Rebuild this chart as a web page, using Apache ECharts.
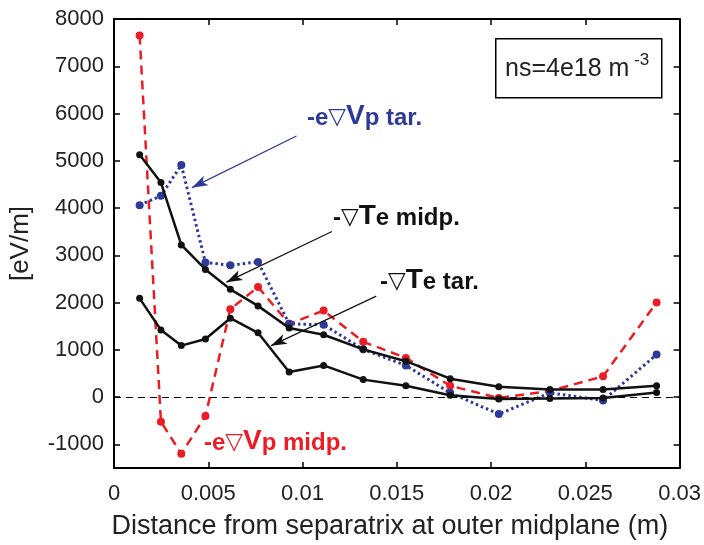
<!DOCTYPE html>
<html>
<head>
<meta charset="utf-8">
<script src="https://cdn.jsdelivr.net/npm/echarts@6/dist/echarts.min.js"></script>
<style>html,body{margin:0;padding:0;background:#fff;}#c{width:704px;height:545px;}</style>
</head>
<body>
<div id="c"></div>
<script>
// Data
var xDist = [0.00136, 0.00249, 0.00357, 0.00485, 0.00617, 0.00764, 0.00929, 0.01112, 0.01322, 0.01548, 0.01783, 0.02041, 0.02312, 0.02594, 0.02878];
var vpMidp = [7650, -520, -1200, -400, 1860, 2330, 1550, 1830, 1170, 830, 240, -20, 130, 440, 2000];
var vpTar  = [4060, 4260, 4910, 2850, 2790, 2860, 1550, 1530, 1010, 670, 90, -360, 90, -70, 900];
var teMidp = [5130, 4540, 3220, 2700, 2280, 1930, 1460, 1320, 1010, 760, 390, 220, 160, 160, 240];
var teTar  = [2090, 1420, 1090, 1230, 1670, 1360, 530, 670, 370, 240, 40, -40, -30, -20, 95];
var yTicks = [-1000, 0, 1000, 2000, 3000, 4000, 5000, 6000, 7000, 8000];
var xTicks = [0, 0.005, 0.01, 0.015, 0.02, 0.025, 0.03];

function pairs(xs, ys) { return xs.map(function (x, i) { return [x, ys[i]]; }); }

var RED = '#ec1c24', BLUE = '#2e3a97', BLACK = '#111111';
var FONT = '"Liberation Sans", Arial, Helvetica, sans-serif';
var TRI = '"DejaVu Sans", sans-serif';

var chart = echarts.init(document.getElementById('c'), null, {renderer: 'canvas'});

var axisCommon = {
  axisLine: {show: true, onZero: false, lineStyle: {color: '#000', width: 2}},
  splitLine: {show: false}
};

function ann(left, top, parts, color) {
  return {
    type: 'text', left: left, top: top, z: 100,
    style: {
      text: parts, fill: color,
      rich: {
        a: {fontFamily: FONT, fontWeight: 'bold', fontSize: 24, fill: color, verticalAlign: 'bottom'},
        t: {fontFamily: TRI, fontWeight: 'normal', fontSize: 23, fill: color, verticalAlign: 'bottom'},
        v: {fontFamily: FONT, fontWeight: 'bold', fontSize: 28, fill: color, verticalAlign: 'bottom'}
      }
    }
  };
}

function arrowLine(from, to, color) {
  return {
    type: 'line', symbol: 'none', data: [], silent: true,
    markLine: {
      silent: true, symbol: ['none', 'arrow'], symbolSize: [8, 16],
      label: {show: false},
      lineStyle: {color: color, width: 1.2, type: 'solid'},
      data: [[{coord: from}, {coord: to}]]
    }
  };
}

var option = {
  animation: false,
  backgroundColor: '#fff',
  grid: {left: 109, right: 22, top: 19, bottom: 75},
  xAxis: [
    Object.assign({
      type: 'value', min: 0, max: 0.03, interval: 0.005, position: 'bottom',
      name: 'Distance from separatrix at outer midplane (m)', nameLocation: 'middle', nameGap: 45,
      nameTextStyle: {fontFamily: FONT, fontSize: 27, color: '#222', padding: [0, 14, 0, 0]},
      axisTick: {show: true, inside: true, length: 6, lineStyle: {color: '#000', width: 1.5}},
      axisLabel: {show: true, margin: 15, fontFamily: FONT, fontSize: 22, color: '#222',
        customValues: xTicks,
        formatter: function (v) { return String(+v.toFixed(3)); }}
    }, axisCommon),
    Object.assign({
      type: 'value', min: 0, max: 0.03, interval: 0.005, position: 'top',
      axisTick: {show: true, inside: true, length: 6, lineStyle: {color: '#000', width: 1.5}},
      axisLabel: {show: false}
    }, axisCommon)
  ],
  yAxis: [
    Object.assign({
      type: 'value', min: -1500, max: 8000, position: 'left',
      name: '[eV/m]', nameLocation: 'middle', nameGap: 80, nameRotate: 90,
      nameTextStyle: {fontFamily: FONT, fontSize: 26, color: '#222'},
      axisTick: {show: true, inside: true, length: 6, customValues: yTicks, lineStyle: {color: '#000', width: 1.5}},
      axisLabel: {show: true, margin: 10, fontFamily: FONT, fontSize: 22, color: '#222', customValues: yTicks,
        formatter: function (v) { return String(v); }}
    }, axisCommon),
    Object.assign({
      type: 'value', min: -1500, max: 8000, position: 'right',
      axisTick: {show: true, inside: true, length: 6, customValues: yTicks, lineStyle: {color: '#000', width: 1.5}},
      axisLabel: {show: false}
    }, axisCommon)
  ],
  series: [
    {
      type: 'line', name: 'zero', data: [], silent: true,
      markLine: {silent: true, symbol: 'none', label: {show: false},
        lineStyle: {color: '#000', width: 1, type: [7, 5]},
        data: [{yAxis: 0}]}
    },
    {
      type: 'line', name: '-e∇Vp midp.', data: pairs(xDist, vpMidp),
      symbol: 'circle', symbolSize: 8, z: 3,
      itemStyle: {color: RED},
      lineStyle: {color: RED, width: 2.5, type: [9, 6]}
    },
    {
      type: 'line', name: '-e∇Vp tar.', data: pairs(xDist, vpTar),
      symbol: 'circle', symbolSize: 8, z: 4,
      itemStyle: {color: BLUE},
      lineStyle: {color: BLUE, width: 3, type: [2.5, 3]}
    },
    {
      type: 'line', name: '-∇Te midp.', data: pairs(xDist, teMidp),
      symbol: 'circle', symbolSize: 7, z: 5,
      itemStyle: {color: BLACK},
      lineStyle: {color: BLACK, width: 2.5}
    },
    {
      type: 'line', name: '-∇Te tar.', data: pairs(xDist, teTar),
      symbol: 'circle', symbolSize: 7, z: 5,
      itemStyle: {color: BLACK},
      lineStyle: {color: BLACK, width: 2.5}
    },
    arrowLine([0.00968, 5526], [0.00413, 4432], BLUE),
    arrowLine([0.01156, 3505], [0.00596, 2432], BLACK),
    arrowLine([0.01391, 2137], [0.00832, 1084], BLACK)
  ],
  graphic: [
    {type: 'rect', left: 495, top: 38, z: 100,
      shape: {width: 166, height: 59}, style: {fill: '#fff', stroke: '#000', lineWidth: 1.5}},
    {type: 'text', left: 505, top: 57, z: 101,
      style: {text: 'ns=4e18 m', fontFamily: FONT, fontSize: 25, fill: '#222'}},
    {type: 'text', left: 634, top: 52, z: 101,
      style: {text: '-3', fontFamily: FONT, fontSize: 17, fill: '#222'}},
    ann(307, 102, '{a|-e}{t|▽}{v|V}{a|p tar.}', BLUE),
    ann(333, 202, '{a|-}{t|▽}{v|T}{a|e midp.}', BLACK),
    ann(380, 266, '{a|-}{t|▽}{v|T}{a|e tar.}', BLACK),
    ann(204, 427, '{a|-e}{t|▽}{v|V}{a|p midp.}', RED)
  ]
};
chart.setOption(option);
</script>
</body>
</html>
